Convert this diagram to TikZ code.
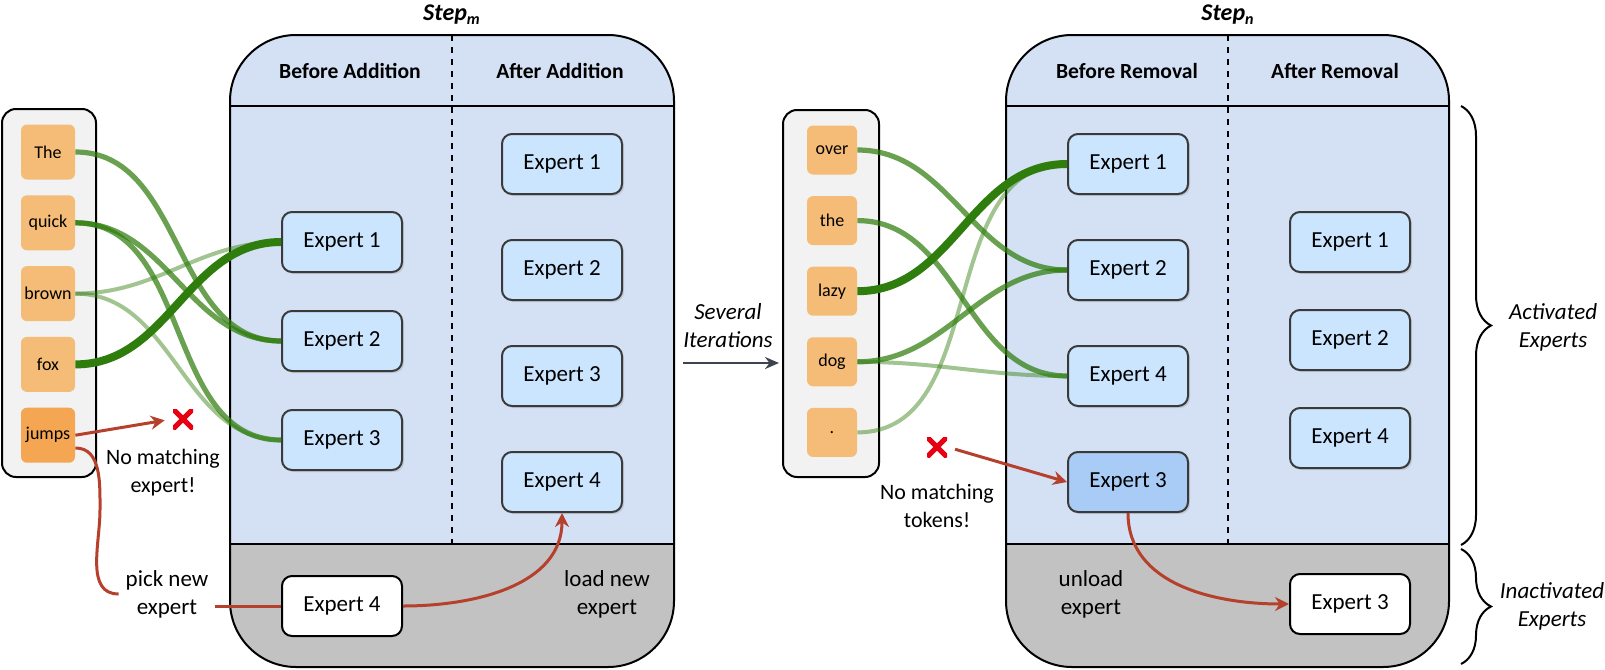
\documentclass[tikz,border=0pt]{standalone}
\usepackage{fontspec}
\setmainfont{Carlito}
\usetikzlibrary{positioning,arrows.meta,shadows,decorations.pathreplacing}

\definecolor{panelblue}{HTML}{D4E1F4}
\definecolor{panelgray}{HTML}{C2C2C2}
\definecolor{expfill}{HTML}{CCE5FF}
\definecolor{expdark}{HTML}{A9CCF7}
\definecolor{tokfill}{HTML}{F5BC78}
\definecolor{tokhot}{HTML}{F5A653}
\definecolor{boxgray}{HTML}{F2F2F2}
\definecolor{edgegray}{HTML}{3A3A3A}
\definecolor{linkgreen}{HTML}{2F7D0C}
\definecolor{arrowred}{HTML}{B5402B}
\definecolor{crossred}{HTML}{E60012}
\definecolor{itergray}{HTML}{3D4450}

\begin{document}
\begin{tikzpicture}[
    x=0.5pt, y=0.5pt,
    token/.style={rectangle, rounded corners=3pt, fill=tokfill, minimum width=27pt, minimum height=27.5pt, inner sep=1pt, font=\fontsize{9}{11}\selectfont},
    smalltoken/.style={token, minimum width=25pt, minimum height=24.5pt},
    tokbox/.style={rectangle, rounded corners=7pt, draw=black, line width=1pt, fill=boxgray},
    expert/.style={rectangle, rounded corners=5pt, draw=edgegray, line width=1pt, fill=expfill, minimum width=60pt, minimum height=30pt, font=\fontsize{11.5}{13}\selectfont, drop shadow={shadow xshift=1pt, shadow yshift=-1pt, opacity=0.25}},
    idle/.style={rectangle, rounded corners=5pt, draw=black, line width=1pt, fill=white, minimum width=60pt, minimum height=30pt, font=\fontsize{11.5}{13}\selectfont},
    head/.style={font=\bfseries\fontsize{10.8}{13}\selectfont},
    title/.style={font=\bfseries\itshape\fontsize{12}{14}\selectfont},
    note/.style={align=center, font=\fontsize{11.5}{14}\selectfont},
    side/.style={align=center, font=\itshape\fontsize{11.5}{14}\selectfont},
    link/.style={line width=2.6pt, draw=linkgreen, draw opacity=0.72},
    strong/.style={line width=4pt, draw=linkgreen},
    weak/.style={line width=2pt, draw=linkgreen, draw opacity=0.45},
    redline/.style={line width=1.5pt, draw=arrowred},
    redarrow/.style={redline, -{Stealth[length=7pt,width=7pt]}},
    cross/.style={minimum size=10pt, inner sep=0pt, path picture={\draw[crossred, line width=2.6pt] (path picture bounding box.south west) -- (path picture bounding box.north east) (path picture bounding box.north west) -- (path picture bounding box.south east);}},
    group/.style={decorate, decoration={brace, amplitude=15pt}, line width=1pt}
]
    \useasboundingbox (0,0) rectangle (1605,-669);

    % the two step panels
    \foreach \l/\r/\d in {230/674/452, 1006/1449/1228} {
        \fill[panelblue, rounded corners=33pt] (\l,-35) rectangle (\r,-667);
        \begin{scope}
            \clip[rounded corners=33pt] (\l,-35) rectangle (\r,-667);
            \fill[panelgray] (\l,-544) rectangle (\r,-667);
        \end{scope}
        \draw[line width=1pt, rounded corners=33pt] (\l,-35) rectangle (\r,-667);
        \draw[line width=1pt] (\l,-106) -- (\r,-106) (\l,-544) -- (\r,-544);
        \draw[dashed, line width=1pt] (\d,-35) -- (\d,-544);
    }

    \node[title] (stepm) at (452,-15) {Step\textsubscript{m}};
    \node[title] (stepn) at (1228,-15) {Step\textsubscript{n}};
    \node[head] (headmb) at (350,-71) {Before Addition};
    \node[head] (headma) at (560,-71) {After Addition};
    \node[head] (headnb) at (1127,-71) {Before Removal};
    \node[head] (headna) at (1335,-71) {After Removal};

    % tokens
    \node[tokbox, minimum width=47pt, minimum height=184pt] (wbox) at (49,-293) {};
    \node[token] (w1) at (48,-152) {The};
    \node[token, below=7.5pt of w1] (w2) {quick};
    \node[token, below=7.5pt of w2] (w3) {brown};
    \node[token, below=7.5pt of w3] (w4) {fox};
    \node[token, below=7.5pt of w4, fill=tokhot] (w5) {jumps};

    \node[tokbox, minimum width=48pt, minimum height=183.5pt] (vbox) at (831,-293.5) {};
    \node[smalltoken] (v1) at (832,-150) {over};
    \node[smalltoken, below=10.4pt of v1] (v2) {the};
    \node[smalltoken, below=10.4pt of v2] (v3) {lazy};
    \node[smalltoken, below=10.4pt of v3] (v4) {dog};
    \node[smalltoken, below=10.4pt of v4] (v5) {.};

    % experts, step m
    \node[expert] (mb1) at (342,-242) {Expert 1};
    \node[expert, below=18.5pt of mb1] (mb2) {Expert 2};
    \node[expert, below=18.5pt of mb2] (mb3) {Expert 3};
    \node[expert] (ma1) at (562,-164) {Expert 1};
    \node[expert, below=22pt of ma1] (ma2) {Expert 2};
    \node[expert, below=22pt of ma2] (ma3) {Expert 3};
    \node[expert, below=22pt of ma3] (ma4) {Expert 4};
    \node[idle] (mg4) at (342,-606) {Expert 4};

    % experts, step n
    \node[expert] (nb1) at (1128,-164) {Expert 1};
    \node[expert, below=22pt of nb1] (nb2) {Expert 2};
    \node[expert, below=22pt of nb2] (nb4) {Expert 4};
    \node[expert, below=22pt of nb4, fill=expdark] (nb3) {Expert 3};
    \node[expert] (na1) at (1350,-242) {Expert 1};
    \node[expert, below=18pt of na1] (na2) {Expert 2};
    \node[expert, below=18pt of na2] (na4) {Expert 4};
    \node[idle] (ng3) at (1350,-604) {Expert 3};

    % routing
    \draw[link] (w1.east) to[out=0,in=180] (mb2.west);
    \draw[link] (w2.east) to[out=0,in=180] (mb2.west);
    \draw[link] (w2.east) to[out=0,in=180] (mb3.west);
    \draw[weak] (w3.east) to[out=0,in=180] (mb1.west);
    \draw[weak] (w3.east) to[out=0,in=180] (mb3.west);
    \draw[strong] (w4.east) to[out=0,in=180] (mb1.west);

    \draw[link] (v1.east) to[out=0,in=180] (nb2.west);
    \draw[link] (v2.east) to[out=0,in=180] (nb4.west);
    \draw[strong] (v3.east) to[out=0,in=180] (nb1.west);
    \draw[link] (v4.east) to[out=0,in=180] (nb2.west);
    \draw[weak] (v4.east) to[out=0,in=180] (nb4.west);
    \draw[weak] (v5.east) to[out=0,in=180] (nb1.west);

    % addition
    \node[cross] (xm) at (183,-419) {};
    \draw[redarrow, shorten >=4pt] (w5.east) -- (xm.west);
    \node[note, font=\fontsize{11}{14}\selectfont] (nomatchm) at (163,-473) {No matching\\expert!};
    \node[note] (pick) at (167,-594) {pick new\\expert};
    \coordinate (jdrop) at (100,-510);
    \draw[redline] (w5.-25) to[out=0,in=90] (jdrop) to[out=-90,in=180] (pick.west);
    \draw[redline] (pick.east |- mg4.west) -- (mg4.west);
    \draw[redarrow] (mg4.east) to[out=0,in=-90] (ma4.south);
    \node[note] (loadlbl) at (607,-594) {load new\\expert};

    % iterations
    \node[side] (iterlbl) at (728,-326) {Several\\Iterations};
    \coordinate (iterA) at (683,-363);
    \draw[-{Stealth[length=7pt,width=6pt]}, line width=1.2pt, draw=itergray, shorten >=1.5pt] (iterA) -- (iterA -| vbox.west);

    % removal
    \node[cross] (xn) at (937,-447) {};
    \draw[redarrow, shorten <=4pt] (xn.east) -- (nb3.west);
    \node[note, font=\fontsize{11}{14}\selectfont] (nomatchn) at (937,-506) {No matching\\tokens!};
    \draw[redarrow] (nb3.south) to[out=-90,in=180] (ng3.west);
    \node[note] (unloadlbl) at (1091,-594) {unload\\expert};

    % braces
    \coordinate (actTop) at (1461,-106);
    \coordinate (actBot) at (1461,-545);
    \coordinate (inaTop) at (1461,-549);
    \coordinate (inaBot) at (1461,-664);
    \draw[group] (actTop) -- (actBot);
    \draw[group] (inaTop) -- (inaBot);
    \node[side] (actlbl) at (1553,-327) {Activated\\Experts};
    \node[side] (inalbl) at (1552,-606) {Inactivated\\Experts};
\end{tikzpicture}
\end{document}
